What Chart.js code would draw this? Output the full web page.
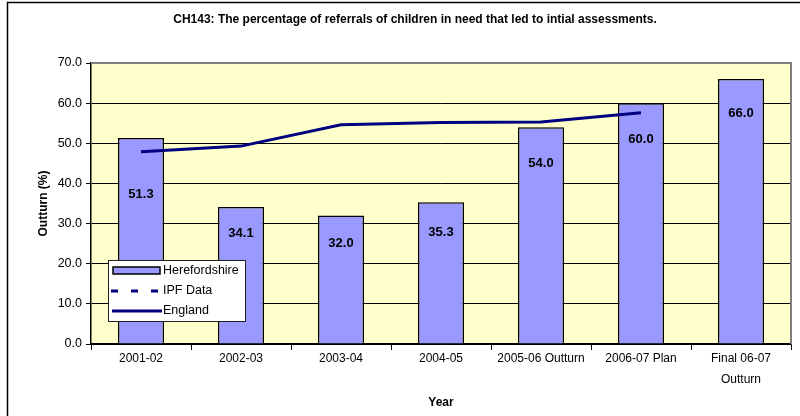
<!DOCTYPE html>
<html>
<head>
<meta charset="utf-8">
<script src="https://cdn.jsdelivr.net/npm/chart.js@4"></script>
<style>
  body { margin: 0; background: #fff; }
  #wrap { width: 800px; height: 416px; }
</style>
</head>
<body>
<div id="wrap"><canvas id="ch143" width="800" height="416"></canvas></div>
<script>
const categories = ["2001-02", "2002-03", "2003-04", "2004-05", "2005-06 Outturn", "2006-07 Plan", ["Final 06-07", "Outturn"]];
const herefordshire = [51.3, 34.1, 32.0, 35.3, 54.0, 60.0, 66.0];
const ipfData = [null, null, null, null, null, null, null];
const england = [47.9, 49.3, 54.6, 55.2, 55.3, 57.6, null];

Chart.defaults.font.family = "'Liberation Sans', Arial, sans-serif";
Chart.defaults.font.size = 12;
Chart.defaults.color = "#000";

// background, outer frame, plot area and title
const framePlugin = {
  id: "frame",
  beforeDraw(chart) {
    const { ctx, chartArea: a } = chart;
    ctx.save();
    ctx.fillStyle = "#fff";
    ctx.fillRect(0, 0, chart.width, chart.height);
    ctx.strokeStyle = "#000";
    ctx.lineWidth = 1.5;
    ctx.strokeRect(7.5, 2.5, 820, 440);
    ctx.fillStyle = "#FFFFCC";
    ctx.fillRect(a.left, a.top, a.width, a.height);
    ctx.fillStyle = "#000";
    ctx.font = "bold 12px 'Liberation Sans', Arial, sans-serif";
    ctx.textAlign = "center";
    ctx.textBaseline = "middle";
    ctx.fillText("CH143: The percentage of referrals of children in need that led to intial assessments.", 415, 20);
    ctx.restore();
  },
  beforeDatasetsDraw(chart) {
    const { ctx, chartArea: a } = chart;
    ctx.save();
    ctx.strokeStyle = "#808080";
    ctx.lineWidth = 2;
    ctx.beginPath();
    ctx.moveTo(a.left, a.top);
    ctx.lineTo(a.right, a.top);
    ctx.lineTo(a.right, a.bottom);
    ctx.stroke();
    ctx.restore();
  }
};

// value labels inside the bars
const labelOffsets = [56, 26, 28, 30, 36, 36, 34];
const barLabels = {
  id: "barLabels",
  afterDatasetsDraw(chart) {
    const { ctx } = chart;
    const meta = chart.getDatasetMeta(0);
    ctx.save();
    ctx.font = "bold 13px 'Liberation Sans', Arial, sans-serif";
    ctx.fillStyle = "#000";
    ctx.textAlign = "center";
    ctx.textBaseline = "middle";
    meta.data.forEach((bar, i) => {
      ctx.fillText(herefordshire[i].toFixed(1), bar.x, bar.y + labelOffsets[i]);
    });
    ctx.restore();
  }
};

// boxed legend inside the plot
const boxLegend = {
  id: "boxLegend",
  afterDraw(chart) {
    const { ctx } = chart;
    const x = 108.5, y = 260.5;
    ctx.save();
    ctx.fillStyle = "#fff";
    ctx.fillRect(x, y, 137, 61);
    ctx.strokeStyle = "#222";
    ctx.lineWidth = 1;
    ctx.strokeRect(x, y, 137, 61);

    ctx.fillStyle = "#9999FF";
    ctx.fillRect(113, 267, 47, 7);
    ctx.strokeStyle = "#000";
    ctx.lineWidth = 1.5;
    ctx.strokeRect(113, 267, 47, 7);

    ctx.strokeStyle = "#000080";
    ctx.lineWidth = 3;
    ctx.setLineDash([7, 13]);
    ctx.beginPath(); ctx.moveTo(111, 291); ctx.lineTo(160, 291); ctx.stroke();
    ctx.setLineDash([]);
    ctx.beginPath(); ctx.moveTo(112, 311); ctx.lineTo(162, 311); ctx.stroke();

    ctx.fillStyle = "#000";
    ctx.font = "12.5px 'Liberation Sans', Arial, sans-serif";
    ctx.textBaseline = "middle";
    ctx.fillText("Herefordshire", 163, 271);
    ctx.fillText("IPF Data", 163, 291);
    ctx.fillText("England", 163, 311);
    ctx.restore();
  }
};

new Chart(document.getElementById("ch143").getContext("2d"), {
  type: "bar",
  data: {
    labels: categories,
    datasets: [
      {
        label: "Herefordshire",
        data: herefordshire,
        backgroundColor: "#9999FF",
        borderColor: "#000",
        borderWidth: 1.5,
        categoryPercentage: 1,
        barPercentage: 0.46,
        order: 2
      },
      {
        type: "line",
        label: "IPF Data",
        data: ipfData,
        borderColor: "#000080",
        borderWidth: 3,
        borderDash: [7, 13],
        pointRadius: 0,
        fill: false,
        order: 1
      },
      {
        type: "line",
        label: "England",
        data: england,
        borderColor: "#000080",
        borderWidth: 3,
        pointRadius: 0,
        tension: 0,
        fill: false,
        order: 0
      }
    ]
  },
  options: {
    responsive: false,
    animation: false,
    layout: { padding: { top: 63, right: 9, left: 0, bottom: 0 } },
    plugins: {
      legend: { display: false },
      tooltip: { enabled: false },
      title: { display: false }
    },
    scales: {
      x: {
        grid: { offset: true, drawOnChartArea: false, color: "#000", tickLength: 6 },
        border: { color: "#000", width: 1.5 },
        ticks: { padding: -2, maxRotation: 0, autoSkip: false, font: { size: 12, lineHeight: 1.75 } },
        title: { display: true, text: "Year", font: { size: 12, weight: "bold" }, padding: { top: 0, bottom: 6 } },
        afterFit(scale) { scale.height = 72; }
      },
      y: {
        min: 0,
        max: 70,
        ticks: { stepSize: 10, padding: 4, callback: v => v.toFixed(1), font: { size: 12.5 } },
        grid: { color: "#000", lineWidth: 1, tickLength: 5 },
        border: { color: "#000", width: 1.5 },
        title: { display: true, text: "Outturn (%)", font: { size: 12, weight: "bold" }, padding: { top: 36, bottom: 0 } },
        afterFit(scale) { scale.width = 91; }
      }
    }
  },
  plugins: [framePlugin, barLabels, boxLegend]
});
</script>
</body>
</html>
